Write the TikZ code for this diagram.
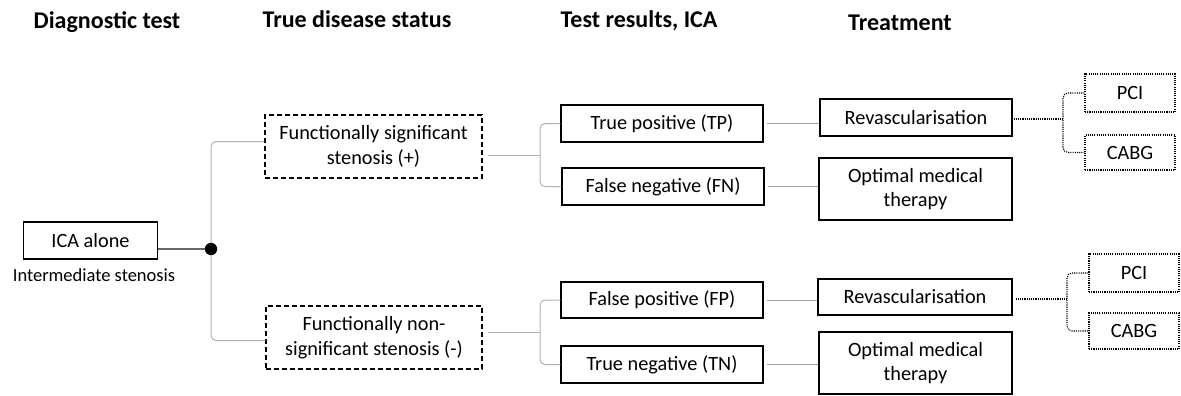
\documentclass[tikz,border=0pt]{standalone}
\usepackage{fontspec}
\setmainfont{Carlito}
\begin{document}
\begin{tikzpicture}[x=1pt,y=-1pt,
  boxtxt/.style={font=\fontsize{20.3}{24.5}\selectfont},
  headtxt/.style={font=\bfseries\fontsize{24}{28}\selectfont, inner sep=0pt},
  solidbox/.style={draw=black, line width=1.3pt, rectangle, inner sep=0pt, align=center, boxtxt},
  dashbox/.style={draw=black, line width=1.3pt, dash pattern=on 5pt off 3pt, rectangle, inner sep=0pt, align=center, boxtxt},
  dotbox/.style={draw=black, line width=1.1pt, dash pattern=on 1.1pt off 1.1pt, rectangle, inner sep=0pt, align=center, boxtxt},
  greyline/.style={draw=gray!75, line width=1pt},
  lightline/.style={draw=gray!60, line width=1pt, rounded corners=5pt},
  dotline/.style={draw=black, line width=1.1pt, dash pattern=on 1.1pt off 1.1pt, rounded corners=5pt}
]
\useasboundingbox (0,0) rectangle (1181,396);

% headings
\node[headtxt] (h1) at (107,22) {Diagnostic test};
\node[headtxt] (h2) at (357,19) {True disease status};
\node[headtxt] (h3) at (639,21) {Test results, ICA};
\node[headtxt] (h4) at (900,23) {Treatment};

% first column
\node[solidbox, minimum width=134pt, minimum height=37pt] (ica) at (90.5,240.5) {ICA alone};
\node[font=\fontsize{18.5}{22}\selectfont, inner sep=0pt] (inter) at (94,275) {Intermediate stenosis};
\coordinate (dot) at (211,249);

% disease status
\node[dashbox, minimum width=217pt, minimum height=63pt] (sig) at (373.5,146.5) {Functionally significant\\stenosis (+)};
\node[dashbox, minimum width=216pt, minimum height=63pt] (nonsig) at (374,337.5) {Functionally non-\\significant stenosis (-)};

% test results
\node[solidbox, minimum width=202pt, minimum height=37pt] (tp) at (662,123.5) {True positive (TP)};
\node[solidbox, minimum width=202pt, minimum height=37pt] (fn) at (663,186.5) {False negative (FN)};
\node[solidbox, minimum width=202pt, minimum height=36pt] (fp) at (662,300) {False positive (FP)};
\node[solidbox, minimum width=202pt, minimum height=37pt] (tn) at (662,364.5) {True negative (TN)};

% treatment
\node[solidbox, minimum width=192pt, minimum height=37pt] (rv1) at (916,117.5) {Revascularisation};
\node[solidbox, minimum width=193pt, minimum height=62pt] (omt1) at (915.5,189) {Optimal medical\\therapy};
\node[solidbox, minimum width=194pt, minimum height=36pt] (rv2) at (915,297) {Revascularisation};
\node[solidbox, minimum width=193pt, minimum height=62pt] (omt2) at (915.5,363) {Optimal medical\\therapy};

% procedures
\node[dotbox, minimum width=90pt, minimum height=38pt] (pci1) at (1130,93) {PCI};
\node[dotbox, minimum width=90pt, minimum height=35pt] (cabg1) at (1130,152.5) {CABG};
\node[dotbox, minimum width=90pt, minimum height=38pt] (pci2) at (1134,273) {PCI};
\node[dotbox, minimum width=90pt, minimum height=36pt] (cabg2) at (1134,331) {CABG};

% junctions
\coordinate (j1) at (540,155);
\coordinate (j2) at (540,332);
\coordinate (k1) at (1063,119);
\coordinate (k2) at (1067,299);

% connectors
\draw[draw=gray!80!black, line width=1.1pt] (ica.east |- dot) -- (dot);
\draw[lightline] (dot) |- ([yshift=5pt]sig.west);
\draw[lightline] (dot) |- ([yshift=-3pt]nonsig.west);
\fill[black] (dot) circle (6.2pt);

\draw[lightline] ([xshift=5pt]sig.east |- j1) -- (j1);
\draw[lightline] (tp.west) -| (j1) |- (fn.west);
\draw[lightline] ([xshift=5pt]nonsig.east |- j2) -- (j2);
\draw[lightline] (fp.west) -| (j2) |- (tn.west);

\draw[greyline] ([xshift=3pt]tp.east) -- (tp.east -| rv1.west);
\draw[greyline] ([xshift=3pt]fn.east) -- (fn.east -| omt1.west);
\draw[greyline] ([xshift=3pt]fp.east) -- (fp.east -| rv2.west);
\draw[greyline] ([xshift=3pt]tn.east) -- (tn.east -| omt2.west);

\draw[dotline] ([xshift=1pt]rv1.east |- k1) -- (k1);
\draw[dotline] (pci1.west) -| (k1) |- (cabg1.west);
\draw[dotline] ([xshift=3pt]rv2.east |- k2) -- (k2);
\draw[dotline] (pci2.west) -| (k2) |- (cabg2.west);
\end{tikzpicture}
\end{document}
